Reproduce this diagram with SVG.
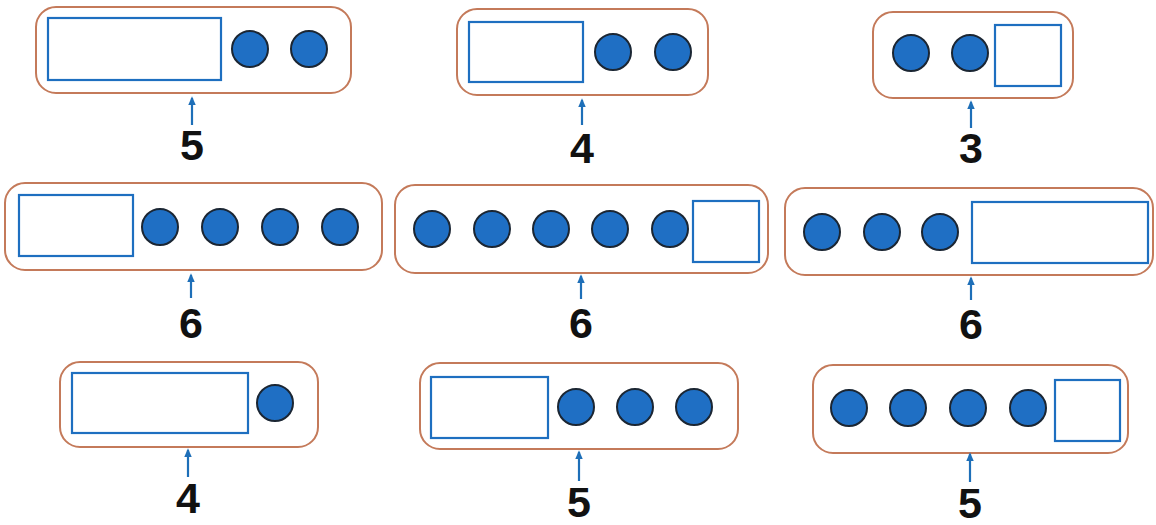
<svg xmlns="http://www.w3.org/2000/svg" width="1156" height="525" viewBox="0 0 1156 525">
<defs>
<style>
.frame{fill:#ffffff;stroke:#c47a5a;stroke-width:2}
.box{fill:#ffffff;stroke:#1e6fc0;stroke-width:2.2}
.dot{fill:#1f6fc4;stroke:#1b2633;stroke-width:2}
.arr{stroke:#1e6fb8;stroke-width:2.2;fill:none}
.num{font-family:"Liberation Sans",Arial,sans-serif;font-weight:bold;font-size:43px;fill:#111111;text-anchor:middle}
</style>
<marker id="ah" viewBox="0 0 10 10" refX="8" refY="5" markerWidth="4" markerHeight="3.4" orient="auto" markerUnits="strokeWidth" preserveAspectRatio="none">
<path d="M0,0 L10,5 L0,10 Z" fill="#1e6fb8"/>
</marker>
</defs>
<rect width="1156" height="525" fill="#ffffff"/>

<g id="p1">
<rect class="frame" x="36" y="7" width="315" height="86" rx="20"/>
<rect class="box" x="48" y="18" width="173" height="62"/>
<circle class="dot" cx="250" cy="49" r="18"/>
<circle class="dot" cx="309" cy="49" r="18"/>
<text class="num" x="192" y="160">5</text>
</g>
<g id="p2">
<rect class="frame" x="457" y="9" width="251" height="86" rx="20"/>
<rect class="box" x="469" y="22" width="114" height="60"/>
<circle class="dot" cx="613" cy="52" r="18"/>
<circle class="dot" cx="673" cy="52" r="18"/>
<text class="num" x="582" y="163">4</text>
</g>
<g id="p3">
<rect class="frame" x="873" y="12" width="200" height="86" rx="20"/>
<circle class="dot" cx="911" cy="53" r="18"/>
<circle class="dot" cx="970" cy="53" r="18"/>
<rect class="box" x="995" y="25" width="66" height="61"/>
<text class="num" x="971" y="163">3</text>
</g>
<g id="p4">
<rect class="frame" x="5" y="183" width="377" height="87" rx="20"/>
<rect class="box" x="19" y="195" width="114" height="61"/>
<circle class="dot" cx="160" cy="227" r="18"/>
<circle class="dot" cx="220" cy="227" r="18"/>
<circle class="dot" cx="280" cy="227" r="18"/>
<circle class="dot" cx="340" cy="227" r="18"/>
<text class="num" x="191" y="338">6</text>
</g>
<g id="p5">
<rect class="frame" x="395" y="185" width="373" height="88" rx="20"/>
<circle class="dot" cx="432" cy="229" r="18"/>
<circle class="dot" cx="492" cy="229" r="18"/>
<circle class="dot" cx="551" cy="229" r="18"/>
<circle class="dot" cx="610" cy="229" r="18"/>
<circle class="dot" cx="670" cy="229" r="18"/>
<rect class="box" x="693" y="201" width="66" height="61"/>
<text class="num" x="581" y="338">6</text>
</g>
<g id="p6">
<rect class="frame" x="785" y="188" width="368" height="87" rx="20"/>
<circle class="dot" cx="822" cy="232" r="18"/>
<circle class="dot" cx="882" cy="232" r="18"/>
<circle class="dot" cx="940" cy="232" r="18"/>
<rect class="box" x="972" y="202" width="176" height="61"/>
<text class="num" x="971" y="339">6</text>
</g>
<g id="p7">
<rect class="frame" x="60" y="362" width="258" height="85" rx="20"/>
<rect class="box" x="72" y="373" width="176" height="60"/>
<circle class="dot" cx="275" cy="403" r="18"/>
<text class="num" x="188" y="513">4</text>
</g>
<g id="p8">
<rect class="frame" x="420" y="363" width="318" height="86" rx="20"/>
<rect class="box" x="431" y="377" width="117" height="61"/>
<circle class="dot" cx="576" cy="407" r="18"/>
<circle class="dot" cx="635" cy="407" r="18"/>
<circle class="dot" cx="694" cy="407" r="18"/>
<text class="num" x="579" y="517">5</text>
</g>
<g id="p9">
<rect class="frame" x="813" y="365" width="315" height="88" rx="20"/>
<circle class="dot" cx="849" cy="408" r="18"/>
<circle class="dot" cx="908" cy="408" r="18"/>
<circle class="dot" cx="968" cy="408" r="18"/>
<circle class="dot" cx="1028" cy="408" r="18"/>
<rect class="box" x="1055" y="380" width="65" height="61"/>
<text class="num" x="970" y="518">5</text>
</g>

<g id="connectors">
<line class="arr" x1="192" y1="125" x2="192" y2="98" marker-end="url(#ah)"/>
<line class="arr" x1="582" y1="125" x2="582" y2="100" marker-end="url(#ah)"/>
<line class="arr" x1="971" y1="128" x2="971" y2="102" marker-end="url(#ah)"/>
<line class="arr" x1="191" y1="298" x2="191" y2="275" marker-end="url(#ah)"/>
<line class="arr" x1="581" y1="299" x2="581" y2="276" marker-end="url(#ah)"/>
<line class="arr" x1="971" y1="300" x2="971" y2="278" marker-end="url(#ah)"/>
<line class="arr" x1="188" y1="477" x2="188" y2="450" marker-end="url(#ah)"/>
<line class="arr" x1="579" y1="481" x2="579" y2="452" marker-end="url(#ah)"/>
<line class="arr" x1="970" y1="482" x2="970" y2="454" marker-end="url(#ah)"/>
</g>
</svg>
